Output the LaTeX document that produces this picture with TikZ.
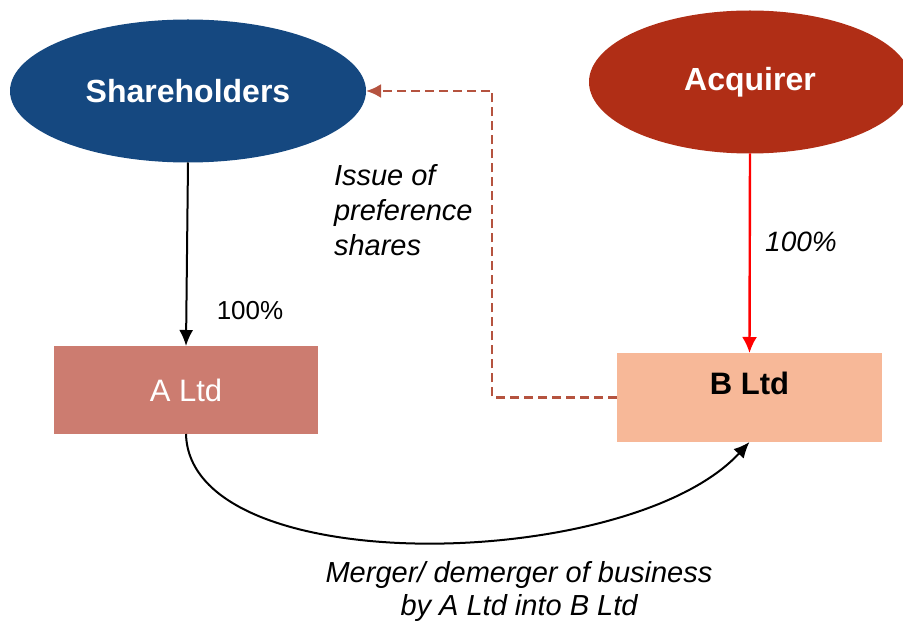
\documentclass[tikz,border=0pt]{standalone}
\usepackage{fontspec}
\setmainfont{Liberation Sans}
\usetikzlibrary{shapes.geometric,arrows.meta}
\definecolor{c154880}{RGB}{21,72,128}
\definecolor{cb02e16}{RGB}{176,46,22}
\definecolor{ccc7c70}{RGB}{204,124,112}
\definecolor{cf7b898}{RGB}{247,184,152}
\definecolor{cb5533f}{RGB}{181,83,63}
\definecolor{cff0000}{RGB}{255,0,0}
\def \globalscale {1.000000}

\begin{document}
\begin{tikzpicture}[y=1pt, x=1pt, yscale=\globalscale,xscale=\globalscale, every node/.append style={scale=\globalscale}, inner sep=0pt, outer sep=0pt]
  \useasboundingbox (0.0, 0.0) rectangle (903.0, 622.0);
  \clip (0.0, 0.0) rectangle (903.0, 622.0);



  \node[ellipse,fill=c154880,text=white,minimum width=356,minimum height=143,font=\fontsize{32}{38}\selectfont\bfseries] (shareholders) at (188.0, 531.0){Shareholders};



  \node[ellipse,fill=cb02e16,text=white,minimum width=322,minimum height=143,font=\fontsize{32}{38}\selectfont\bfseries] (acquirer) at (750.0, 540.0){Acquirer};



  \node[rectangle,fill=ccc7c70,text=white,minimum width=264,minimum height=88,font=\fontsize{31}{37}\selectfont] (altd) at (186.0, 232.0){A Ltd};



  \node[rectangle,fill=cf7b898,text=black,minimum width=265,minimum height=89,font=\fontsize{31}{37}\selectfont\bfseries] (bltd) at (749.5, 224.5){\raisebox{28pt}{B Ltd}};



  \coordinate (bend) at (492.0, 531.0);



  \path[draw=black,line width=2pt,-{Latex[length=16,width=14]}] (shareholders.south) -- (altd.north);



  \path[draw=cff0000,line width=2.4pt,-{Latex[length=16,width=15]}] (acquirer.south) -- (bltd.north);



  \path[draw=cb5533f,line width=2.6pt,dash pattern=on 9pt off 5pt,-{Latex[length=15,width=14]}] (bltd.west) -| (bend) -- (shareholders.east);



  \path[draw=black,line width=2pt,-{Latex[length=16,width=14]}] (altd.south) .. controls (190.0, 40.0) and (630.0, 50.0) .. (bltd.south);



  \node[anchor=center,font=\fontsize{26}{31}\selectfont] (text100a) at (250.0, 311.0){100\%};



  \node[anchor=center,font=\fontsize{28}{33}\selectfont\itshape] (text100b) at (801.0, 380.0){100\%};



  \node[anchor=north west,align=left,font=\fontsize{29}{35}\selectfont\itshape] (textissue) at (334.0, 458.0){Issue of\\preference\\shares};



  \node[anchor=center,align=center,font=\fontsize{29}{33}\selectfont\itshape] (textmerger) at (519.0, 30.0){Merger/ demerger of business\\by A Ltd into B Ltd};




\end{tikzpicture}
\end{document}
